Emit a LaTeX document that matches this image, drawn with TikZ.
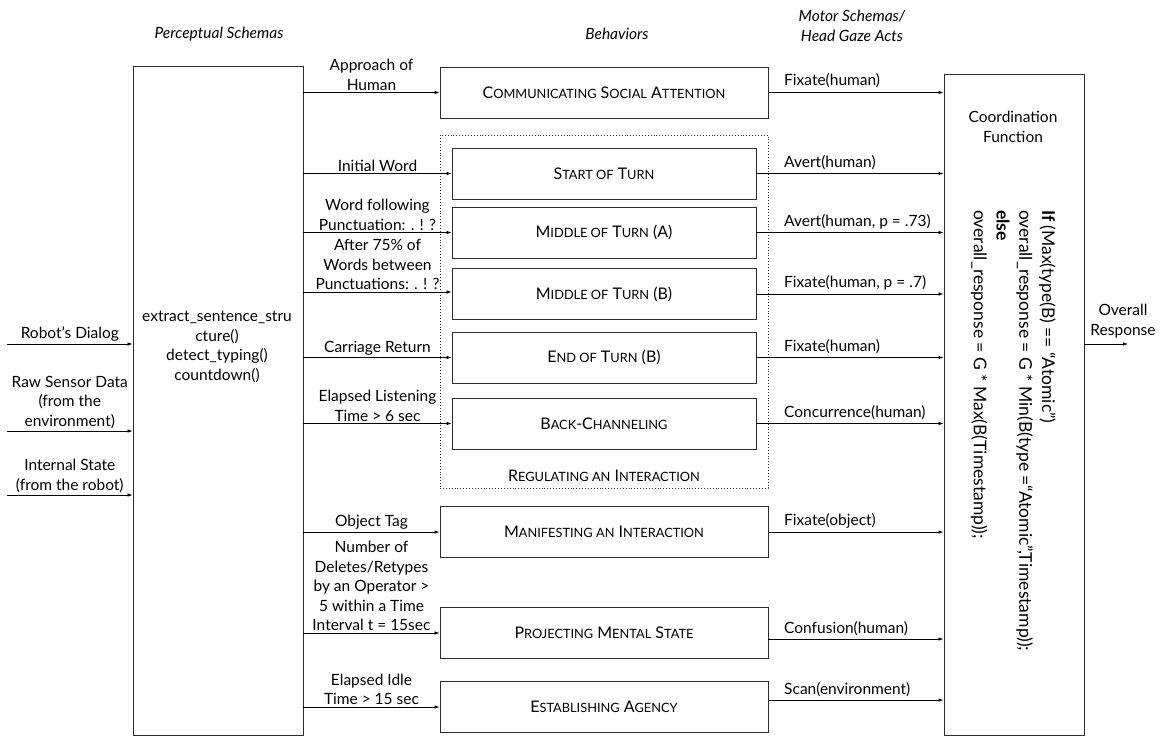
\documentclass[tikz,border=0pt]{standalone}
\usepackage{fontspec}
\setmainfont{Lato}
\usetikzlibrary{arrows.meta}
\definecolor{boxgray}{RGB}{45,45,45}
\newcommand{\smc}[1]{{\fontsize{12.8}{13}\selectfont #1}}

\tikzset{
  behavior/.style={draw=boxgray, line width=0.9pt, minimum width=304pt, minimum height=51pt, inner sep=0pt,
    font=\fontsize{16}{19.5}\selectfont},
  widebehavior/.style={behavior, minimum width=328pt},
  cue/.style={above, align=center, inner sep=2pt},
  act/.style={anchor=south west, inner sep=2pt},
  title/.style={font=\fontsize{15.5}{20}\selectfont\itshape, align=center},
  flow/.style={->, line width=0.7pt}
}

\begin{document}
\begin{tikzpicture}[x=1pt, y=-1pt, >={Latex[length=5pt,width=3.5pt]},
    every node/.append style={font=\fontsize{15.5}{19.5}\selectfont}]
    \useasboundingbox (0,0) rectangle (1167,738);

    % column titles
    \node[title] (ttl-percep) at (219,34) {Perceptual Schemas};
    \node[title] (ttl-behav) at (617,34) {Behaviors};
    \node[title] (ttl-motor) at (852,26) {Motor Schemas/\\Head Gaze Acts};

    % perceptual schemas
    \node[draw=boxgray, line width=0.9pt, minimum width=170pt, minimum height=669pt] (percep) at (218,400.5) {};
    \node[align=center] (percep-txt) at (217,347) {extract\_sentence\_stru\\cture()\\detect\_typing()\\countdown()};

    % behaviors
    \node[widebehavior] (csa) at (604,92.5) {C\smc{OMMUNICATING} S\smc{OCIAL} A\smc{TTENTION}};
    \node[draw=boxgray, line width=0.9pt, dotted, minimum width=328pt, minimum height=353pt] (regulate) at (604,311.5) {};
    \node[behavior] (start) at (604,173.5) {S\smc{TART OF} T\smc{URN}};
    \node[behavior] (midA) at (604,232.5) {M\smc{IDDLE OF} T\smc{URN} (A)};
    \node[behavior] (midB) at (604,294) {M\smc{IDDLE OF} T\smc{URN} (B)};
    \node[behavior] (endB) at (604,357.5) {E\smc{ND OF} T\smc{URN} (B)};
    \node[behavior] (back) at (604,423.5) {B\smc{ACK}-C\smc{HANNELING}};
    \node[above=3pt, font=\fontsize{16}{19.5}\selectfont] (reg-txt) at (regulate.south) {R\smc{EGULATING AN} I\smc{NTERACTION}};
    \node[widebehavior] (manif) at (604,532) {M\smc{ANIFESTING AN} I\smc{NTERACTION}};
    \node[widebehavior] (proj) at (604,633) {P\smc{ROJECTING} M\smc{ENTAL} S\smc{TATE}};
    \node[widebehavior] (estab) at (604,707) {E\smc{STABLISHING} A\smc{GENCY}};

    % coordination function
    \node[draw=boxgray, line width=0.9pt, minimum width=140pt, minimum height=661pt] (coord) at (1014,404.5) {};
    \node[align=center] (coord-txt) at (1013,127) {Coordination\\Function};
    \node[rotate=-90, anchor=north west, align=left, inner sep=0pt,
          font=\fontsize{17.5}{22.8}\selectfont] (rule) at (1056,210)
      {\textbf{If} (Max(type(B) == ``Atomic'')\\
       overall\_response = G * Min(B(type =``Atomic'',Timestamp));\\
       \textbf{else}\\
       overall\_response = G * Max(B(Timestamp));};

    % inputs
    \coordinate (dialog) at (7,344);
    \coordinate (sensor) at (7,431);
    \coordinate (state) at (7,495);
    \draw[flow] (dialog) -- node[cue] {Robot's Dialog} (percep.west |- dialog);
    \draw[flow] (sensor) -- node[cue] {Raw Sensor Data\\(from the\\environment)} (percep.west |- sensor);
    \draw[flow] (state) -- node[cue] {Internal State\\(from the robot)} (percep.west |- state);

    % perceptual schemas to behaviors
    \draw[flow] (percep.east |- csa) -- node[cue] {Approach of\\Human} (csa.west);
    \draw[flow] (percep.east |- start) -- node[cue] {Initial Word} (start.west);
    \draw[flow] (percep.east |- midA) -- node[cue] {Word following\\Punctuation: . ! ?} (midA.west);
    \draw[flow] ([yshift=2pt]percep.east |- midB) -- node[cue] {After 75\% of\\Words between\\Punctuations: . ! ?} ([yshift=2pt]midB.west);
    \draw[flow] (percep.east |- endB) -- node[cue] {Carriage Return} (endB.west);
    \draw[flow] (percep.east |- back) -- node[cue] {Elapsed Listening\\Time > 6 sec} (back.west);
    \draw[flow] (percep.east |- manif) -- node[cue] {Object Tag} (manif.west);
    \draw[flow] (percep.east |- proj) -- node[cue] {Number of\\Deletes/Retypes\\by an Operator >\\5 within a Time\\Interval t = 15sec} (proj.west);
    \draw[flow] (percep.east |- estab) -- node[cue] {Elapsed Idle\\Time > 15 sec} (estab.west);

    % behaviors to coordination function
    \draw[flow] (csa.east) -- (coord.west |- csa);
    \draw[flow] (start.east) -- (coord.west |- start);
    \draw[flow] (midA.east) -- (coord.west |- midA);
    \draw[flow] (midB.east) -- (coord.west |- midB);
    \draw[flow] (endB.east) -- (coord.west |- endB);
    \draw[flow] (back.east) -- (coord.west |- back);
    \draw[flow] (manif.east) -- (coord.west |- manif);
    \draw[flow] ([yshift=-6pt]proj.east) -- ([yshift=-6pt]coord.west |- proj);
    \draw[flow] ([yshift=7pt]estab.east) -- ([yshift=7pt]coord.west |- estab);
    \node[act] (a-csa) at (782,90) {Fixate(human)};
    \node[act] (a-start) at (782,172) {Avert(human)};
    \node[act] (a-midA) at (782,231) {Avert(human, p = .73)};
    \node[act] (a-midB) at (782,292) {Fixate(human, p = .7)};
    \node[act] (a-endB) at (782,356) {Fixate(human)};
    \node[act] (a-back) at (782,422) {Concurrence(human)};
    \node[act] (a-manif) at (782,531) {Fixate(object)};
    \node[act] (a-proj) at (782,638) {Confusion(human)};
    \node[act] (a-estab) at (782,699) {Scan(environment)};

    % output
    \coordinate (out) at (1128,344);
    \draw[flow] (coord.east |- out) -- (out);
    \node[cue, anchor=south] (out-txt) at (1123,340) {Overall\\Response};
\end{tikzpicture}
\end{document}
